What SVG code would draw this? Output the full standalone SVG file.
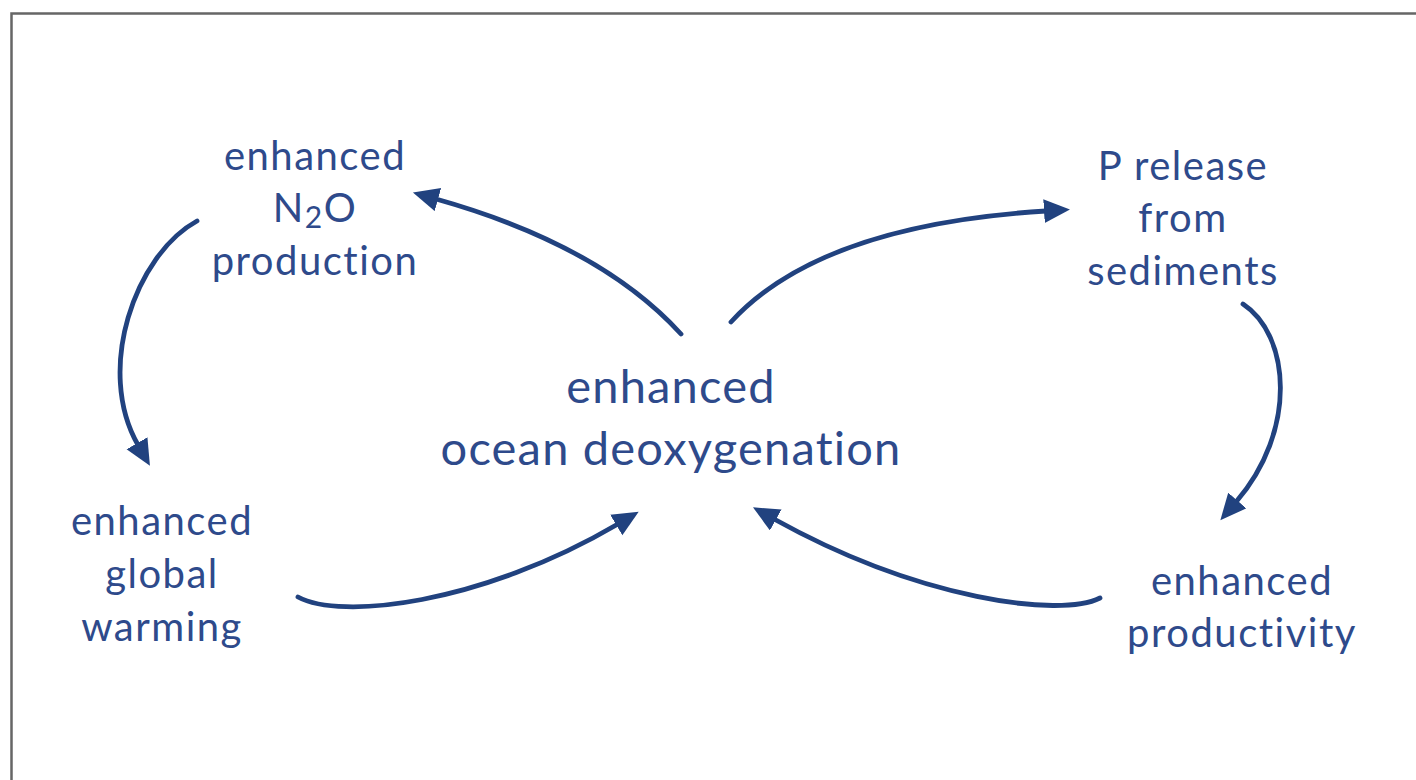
<svg xmlns="http://www.w3.org/2000/svg" width="1416" height="780" viewBox="0 0 1416 780">
<style>
.lbl{font-family:Lato,"Open Sans","Liberation Sans",sans-serif;fill:#2E4A8B;text-anchor:middle;font-size:40px;letter-spacing:1.5px}
.big{font-size:47px;letter-spacing:1.2px}
.arr{fill:none;stroke:#21427F;stroke-width:4.8;stroke-linecap:round;marker-end:url(#ah)}
</style>
<defs>
<marker id="ah" markerUnits="userSpaceOnUse" markerWidth="30" markerHeight="28" refX="2" refY="12" orient="auto">
<path d="M0,0 L26,12 L0,24 Z" fill="#21427F"/>
</marker>
</defs>
<rect x="11.5" y="13.5" width="1420" height="790" fill="#fff" stroke="#666" stroke-width="2.5"/>
<g id="center"><text class="lbl big" x="671" y="403">enhanced</text><text class="lbl big" x="671" y="465">ocean deoxygenation</text></g>
<g id="n2o"><text class="lbl" x="315" y="170">enhanced</text><text class="lbl" x="315" y="222">N<tspan font-size="30" dy="6">2</tspan><tspan dy="-6">O</tspan></text><text class="lbl" x="315" y="275">production</text></g>
<g id="prelease"><text class="lbl" x="1183" y="180">P release</text><text class="lbl" x="1183" y="232">from</text><text class="lbl" x="1183" y="285">sediments</text></g>
<g id="warming"><text class="lbl" x="162" y="535">enhanced</text><text class="lbl" x="162" y="588">global</text><text class="lbl" x="162" y="641">warming</text></g>
<g id="productivity"><text class="lbl" x="1242" y="595">enhanced</text><text class="lbl" x="1242" y="647">productivity</text></g>
<g id="connectors">
<path class="arr" d="M681,334 Q600,245 436,199"/>
<path class="arr" d="M731,322 Q820,225 1046,211"/>
<path class="arr" d="M1243,304 C1290,335 1298,430 1236,502"/>
<path class="arr" d="M1100,598 C1060,618 920,600 774,519"/>
<path class="arr" d="M298,597 C340,620 480,605 618,524"/>
<path class="arr" d="M197,221 C135,255 95,370 138,445"/>
</g>
</svg>
